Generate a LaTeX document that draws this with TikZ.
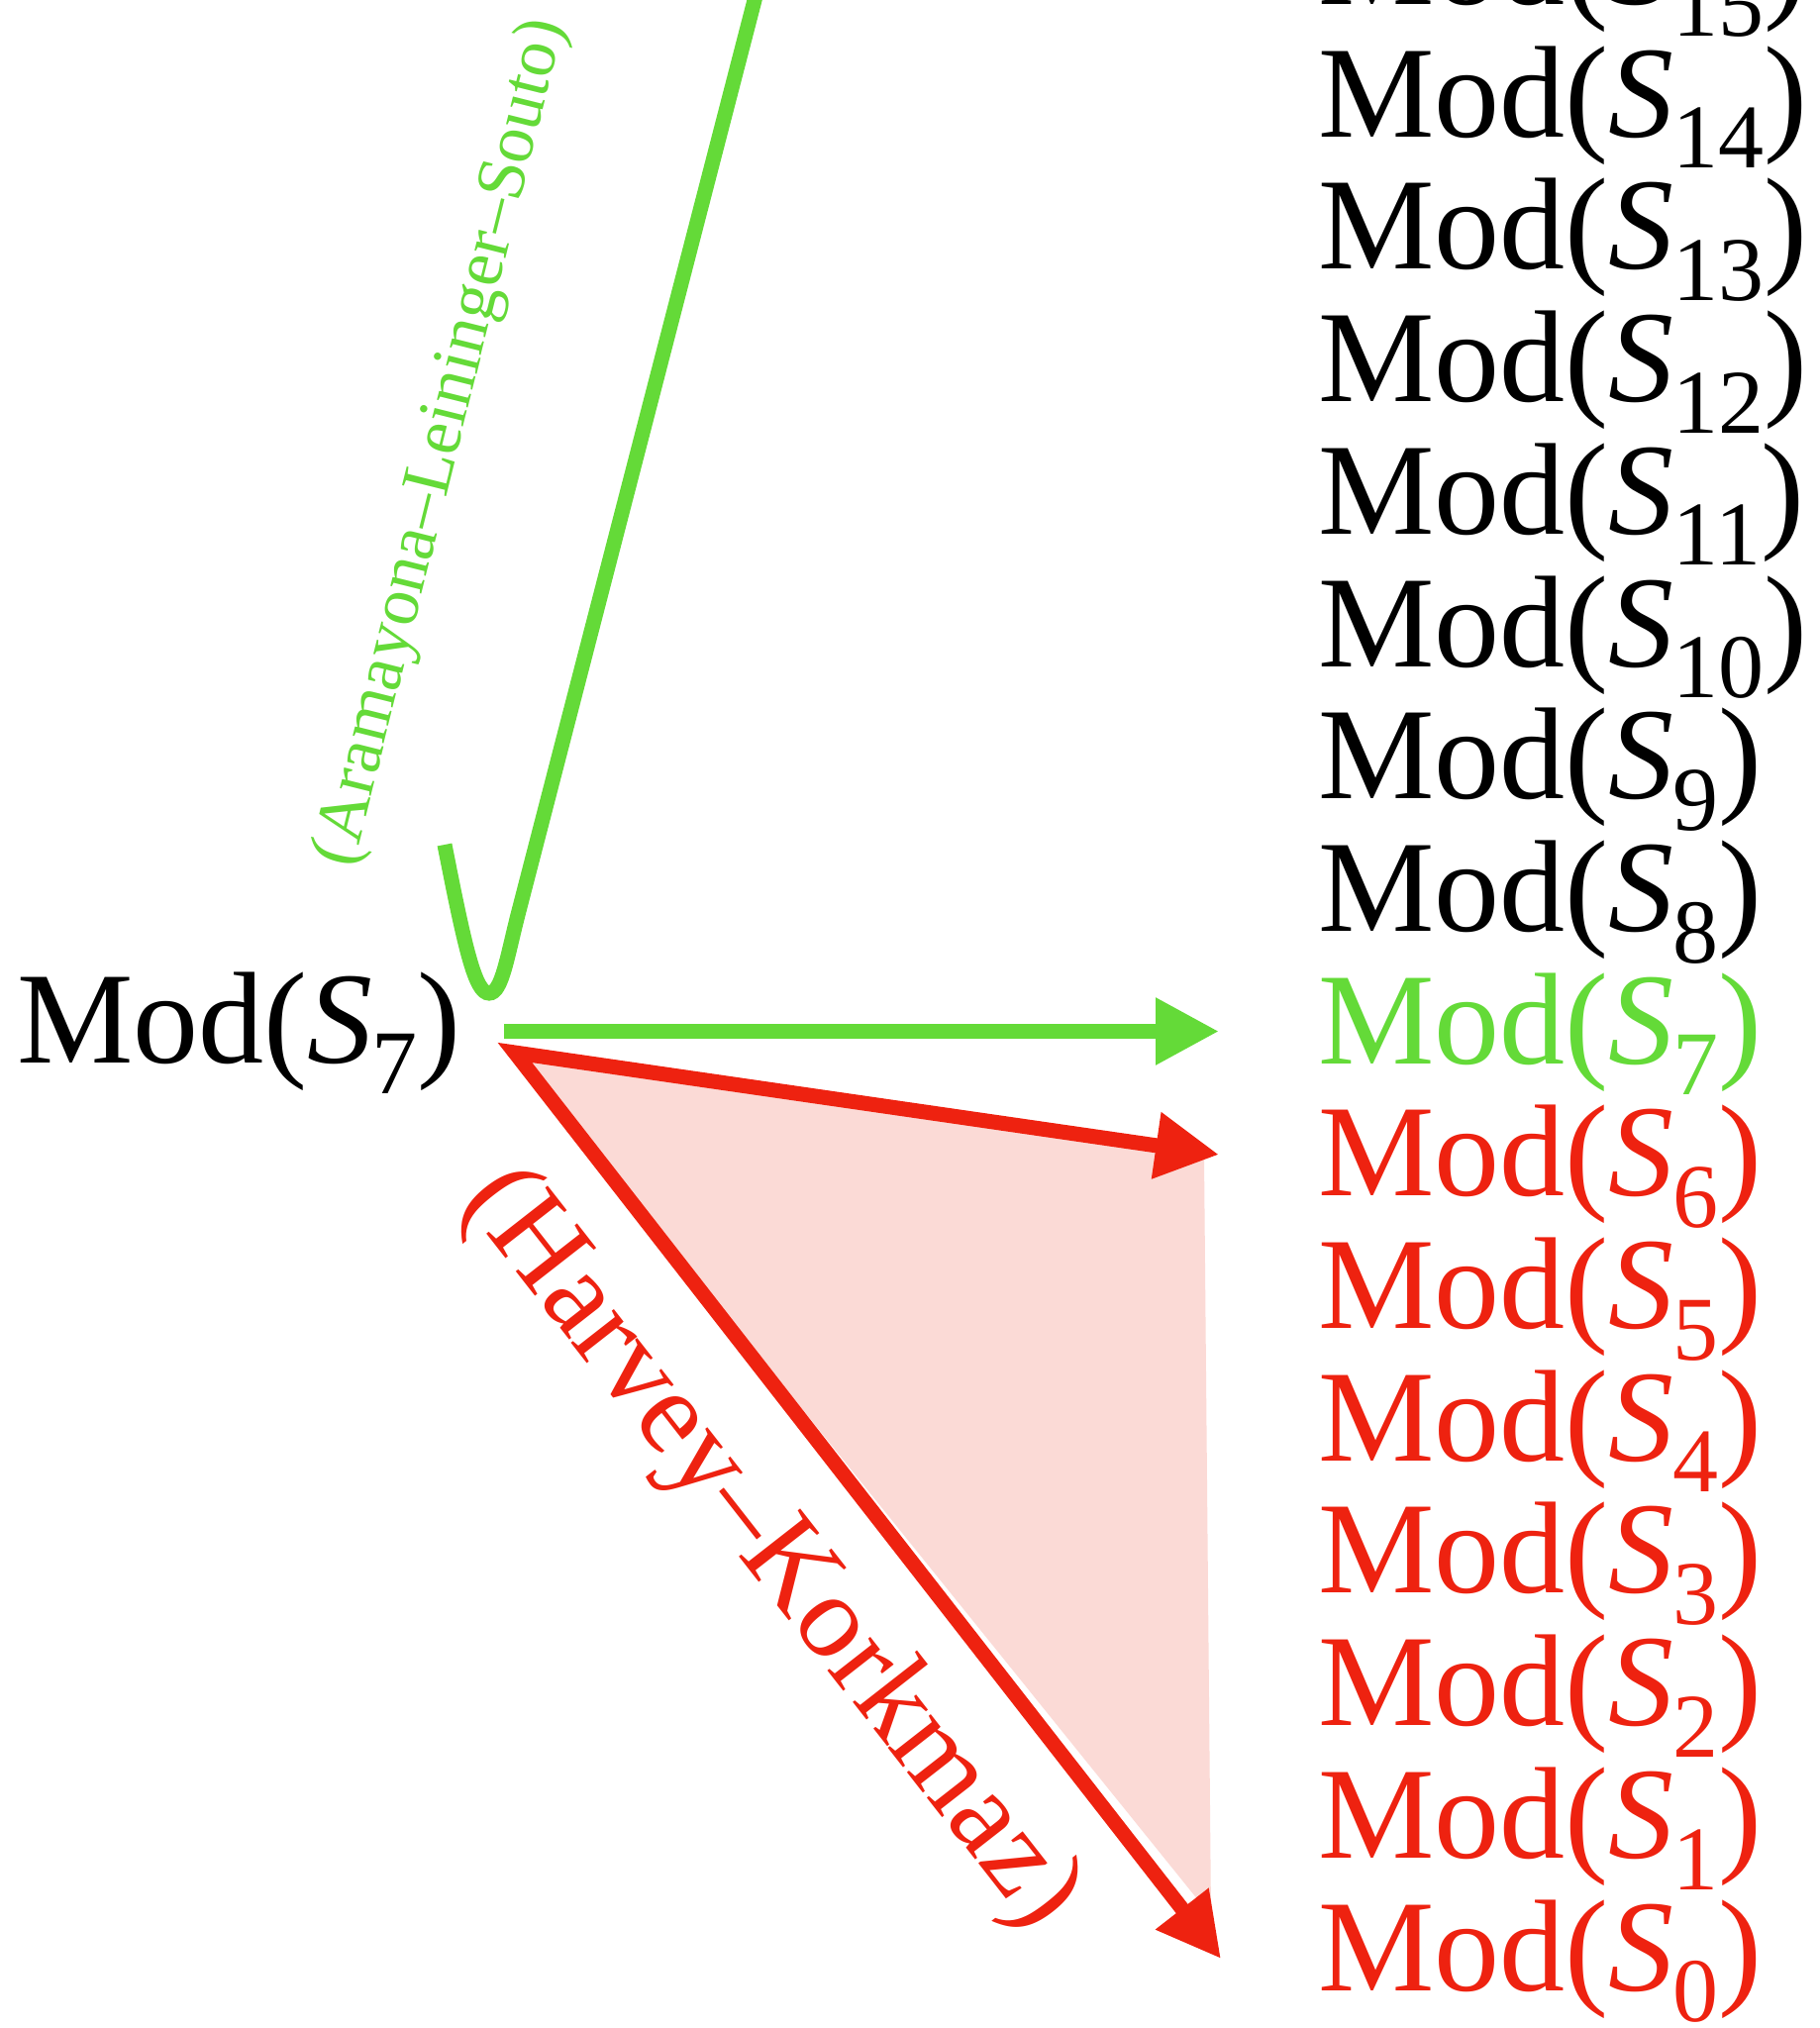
\documentclass[tikz,border=0pt]{standalone}
\usepackage{fontspec}
\setmainfont{Liberation Serif}
\usetikzlibrary{arrows.meta}
\definecolor{grn}{RGB}{100,218,56}
\definecolor{rd}{RGB}{238,34,16}
\definecolor{pnk}{RGB}{251,218,214}
\newcommand\modS[1]{Mod(\textit{S}\kern-0.01em\raisebox{-0.24em}{\fontsize{46}{46}\selectfont #1})}
\tikzset{
  lab/.style={inner sep=0pt, anchor=base west, font=\fontsize{66}{66}\selectfont},
  thick arrow/.style={line width=7.5pt, -{Triangle[length=32pt,width=32pt]}},
}
\begin{document}
\begin{tikzpicture}[x=0.5pt, y=-0.5pt]
\useasboundingbox (0,0) rectangle (1837,2048);
\clip (0,0) rectangle (1837,2048);
% left label
\node[lab] (L) at (17,1073) {\modS{7}};
% right column
\node[lab] (r15) at (1331,4.5) {\modS{15}};
\node[lab] (r14) at (1331,138.2) {\modS{14}};
\node[lab] (r13) at (1331,271.9) {\modS{13}};
\node[lab] (r12) at (1331,405.6) {\modS{12}};
\node[lab] (r11) at (1331,539.3) {\modS{11}};
\node[lab] (r10) at (1331,673) {\modS{10}};
\node[lab] (r9) at (1331,806.7) {\modS{9}};
\node[lab] (r8) at (1331,940.4) {\modS{8}};
\node[lab, text=grn] (r7) at (1331,1074.1) {\modS{7}};
\node[lab, text=rd] (r6) at (1331,1207.8) {\modS{6}};
\node[lab, text=rd] (r5) at (1331,1341.5) {\modS{5}};
\node[lab, text=rd] (r4) at (1331,1475.2) {\modS{4}};
\node[lab, text=rd] (r3) at (1331,1608.9) {\modS{3}};
\node[lab, text=rd] (r2) at (1331,1742.6) {\modS{2}};
\node[lab, text=rd] (r1) at (1331,1876.3) {\modS{1}};
\node[lab, text=rd] (r0) at (1331,2010) {\modS{0}};
% connector endpoints
\coordinate (gs) at (509,1041.5);
\coordinate (g7) at (1231,1041.5);
\coordinate (rs) at (520,1063);
\coordinate (r6t) at (1231,1166);
\coordinate (r0t) at (1233,1978);
% pink region
\fill[pnk] (rs) -- (1216,1168) -- (1223,1935) -- cycle;
% green arrow
\draw[thick arrow, grn] (gs) -- (g7);
% red arrows
\draw[line width=7.5pt, rd, {Triangle[length=32pt,width=32pt]}-{Triangle[length=32pt,width=32pt]}] (r6t) -- (rs) -- (r0t);
% green curve
\draw[grn, line width=7.5pt] (449,853) .. controls (470,960) and (480,1003) .. (494,1003)
  .. controls (507,1003) and (512.3,965) .. (524,920) -- (775.5,-52);
% labels
\node[rotate=76, text=grn, inner sep=0pt, font=\fontsize{35}{35}\selectfont] (als) at (447,447) {(Aramayona\textendash Leininger\textendash Souto)};
\node[rotate=-52, text=rd, inner sep=0pt, font=\fontsize{60}{60}\selectfont] (hk) at (777,1565) {(Harvey\textendash Korkmaz)};
\end{tikzpicture}
\end{document}
